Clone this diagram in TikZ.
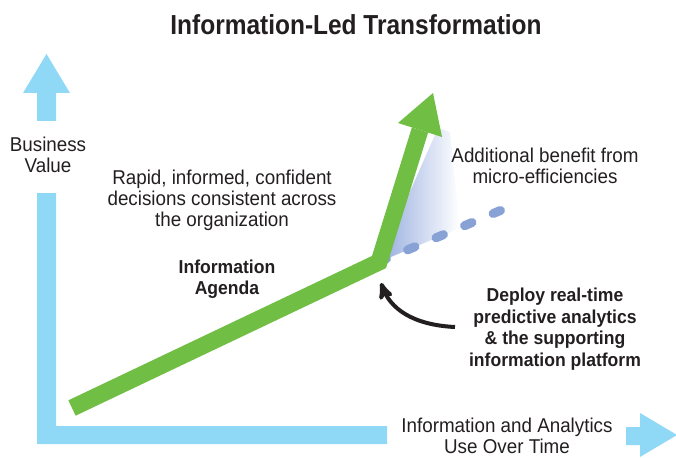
\documentclass[tikz,border=0pt]{standalone}
\usepackage{fontspec}
\setmainfont{Liberation Sans}
\newfontfamily\plainfont[FakeStretch=0.94]{Liberation Sans}
\newfontfamily\titlefont[FakeStretch=0.89]{Liberation Sans Bold}
\usetikzlibrary{positioning, arrows}
\definecolor{axisblue}{RGB}{143,217,247}
\definecolor{leadgreen}{RGB}{112,190,68}
\definecolor{dashblue}{RGB}{136,162,214}
\definecolor{shadeblue}{RGB}{150,172,222}
\definecolor{inkgray}{RGB}{35,31,32}
\tikzset{
  >=stealth',
  x=1pt, y=-1pt,
  axis/.style={fill=axisblue},
  caption/.style={align=center, text=inkgray, inner sep=0pt,
    font=\plainfont\fontsize{20}{21}\selectfont},
  heavy/.style={caption, font=\plainfont\bfseries\fontsize{18.7}{21.5}\selectfont},
}

\begin{document}
\begin{tikzpicture}
  \useasboundingbox (0,0) rectangle (676,457);

  % axes
  \fill[axis] (37,193) -- (56,193) -- (56,426) -- (387,426) -- (387,444) -- (37,444) -- cycle;
  \fill[axis] (37,121) -- (37,93) -- (23,93) -- (46.5,54) -- (70,93) -- (56,93) -- (56,121) -- cycle;
  \fill[axis] (626,427) -- (640,427) -- (640,413) -- (677,435) -- (640,457) -- (640,445) -- (626,445) -- cycle;

  % points
  \coordinate (start) at (72,408);
  \coordinate (elbow) at (379,262);
  \coordinate (base) at (420,130);
  \coordinate (tip) at (433,93);
  \coordinate (flat) at (518,203);
  \coordinate (tail) at (455,327);

  % benefit area and trend
  \shade[left color=shadeblue, right color=white] (elbow) -- (438,128) -- (450,132) -- (460,228) -- cycle;
  \draw[dashblue, line width=9pt, line cap=round, dash pattern=on 8pt off 23pt] (elbow) -- (flat);
  \draw[leadgreen, line width=17pt, line join=miter] (start) -- (elbow) -- (base);
  \fill[leadgreen] (398,123) -- (tip) -- (442,137) -- cycle;

  % labels
  \node[text=inkgray, font=\titlefont\fontsize{27.5}{27.5}\selectfont] (title) at (356,25) {Information-Led Transformation};
  \node[caption] (value) at (48,155) {Business\\Value};
  \node[caption] (decisions) at (222,200) {Rapid, informed, confident\\decisions consistent across\\the organization};
  \node[heavy] (agenda) at (227,279) {Information\\Agenda};
  \node[caption] (benefit) at (545,166) {Additional benefit from\\micro-efficiencies};
  \node[heavy] (deploy) at (555,329) {Deploy real-time\\predictive analytics\\\& the supporting\\information platform};
  \node[caption] (usage) at (507,435.5) {Information and Analytics\\Use Over Time};

  % pointer
  \draw[->, inkgray, line width=4pt] (tail) .. controls (412,325) and (390,308) .. (381,283);
\end{tikzpicture}
\end{document}
